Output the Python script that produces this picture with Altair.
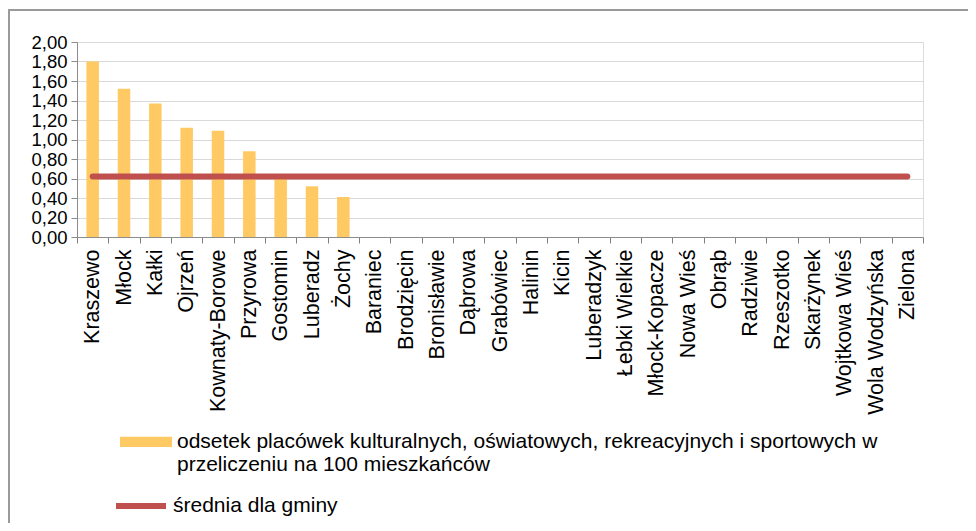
import altair as alt
import pandas as pd

categories = ["Kraszewo", "Młock", "Kałki", "Ojrzeń", "Kownaty-Borowe", "Przyrowa",
              "Gostomin", "Luberadz", "Żochy", "Baraniec", "Brodzięcin", "Bronisławie",
              "Dąbrowa", "Grabówiec", "Halinin", "Kicin", "Luberadzyk", "Łebki Wielkie",
              "Młock-Kopacze", "Nowa Wieś", "Obrąb", "Radziwie", "Rzeszotko", "Skarżynek",
              "Wojtkowa Wieś", "Wola Wodzyńska", "Zielona"]
values = [1.80, 1.52, 1.37, 1.12, 1.09, 0.88, 0.60, 0.52, 0.41] + [0.0] * 18
average = [0.62] * len(categories)
y_ticks = [0, 0.2, 0.4, 0.6, 0.8, 1.0, 1.2, 1.4, 1.6, 1.8, 2.0]

series_bar = "odsetek placówek kulturalnych, oświatowych, rekreacyjnych i sportowych w|przeliczeniu na 100 mieszkańców"
series_line = "średnia dla gminy"

df = pd.DataFrame({"cat": categories, "val": values, "avg": average,
                   "s_bar": series_bar, "s_line": series_line})

FONT = "Liberation Sans"

xaxis = alt.Axis(labelAngle=-90, labelAlign="right", labelBaseline="middle",
                 tickBand="extent", grid=False, labelLimit=400, labelOverlap=False,
                 labelFontSize=21.5, labelPadding=6)
yscale = alt.Scale(domain=[0, 2], nice=False)
yaxis = alt.Axis(values=y_ticks, labelOverlap=False, labelFontSize=18.5, labelPadding=4,
                 labelExpr="replace(format(datum.value, '.2f'), '.', ',')")

bars = alt.Chart(df).mark_bar(width={"band": 0.4}).encode(
    x=alt.X("cat:N", sort=categories, title=None,
            scale=alt.Scale(paddingInner=0, paddingOuter=0), axis=xaxis),
    y=alt.Y("val:Q", scale=yscale, axis=yaxis, title=None),
    fill=alt.Fill("s_bar:N", scale=alt.Scale(range=["#FFCA64"]),
                  legend=alt.Legend(title=None, orient="none", legendX=43, legendY=363,
                                    symbolType="M-1,0.22H1V0.62H-1Z", symbolSize=2704,
                                    symbolStrokeWidth=0, labelOffset=5,
                                    labelExpr="split(datum.label, '|')",
                                    labelBaseline="top", padding=0)),
)

line = alt.Chart(df).mark_line(strokeWidth=6, strokeCap="round").encode(
    x=alt.X("cat:N", sort=categories, title=None, axis=xaxis),
    y=alt.Y("avg:Q", scale=yscale, title=None, axis=yaxis),
    stroke=alt.Stroke("s_line:N", scale=alt.Scale(range=["#C0504D"]),
                      legend=alt.Legend(title=None, orient="none", legendX=36, legendY=436,
                                        symbolType="stroke", symbolSize=2500,
                                        symbolStrokeWidth=6, labelOffset=4, padding=0)),
)

frame_df = pd.DataFrame({"k": [0]})
frame = alt.Chart(frame_df).mark_rect(fill=None, stroke="#9a9a9a", strokeWidth=2).encode(
    x=alt.value(-68), x2=alt.value(1000), y=alt.value(-32), y2=alt.value(700))

chart = alt.layer(frame, bars, line).properties(
    width=846, height=195,
    autosize=alt.AutoSizeParams(type="none"),
    padding={"left": 69, "top": 34, "right": 45, "bottom": 286},
).configure_view(stroke="#bfbfbf", strokeWidth=1.2).configure(font=FONT).configure_axisX(
    labelFontSize=21.5, labelFont=FONT, labelColor="#000000", labelPadding=6,
    labelOverlap=False, tickColor="#808080", tickSize=6, domainColor="#8c8c8c",
).configure_axisY(
    labelFontSize=18.5, labelFont=FONT, labelColor="#000000", labelPadding=4,
    labelOverlap=False, tickColor="#8c8c8c", tickSize=6, domainColor="#8c8c8c",
    gridColor="#d9d9d9", gridWidth=1.2,
).configure_legend(
    labelFontSize=21, labelFont=FONT, labelColor="#000000", labelLimit=900,
)

chart.save("out.html", embed_options={"renderer": "svg", "actions": False})
